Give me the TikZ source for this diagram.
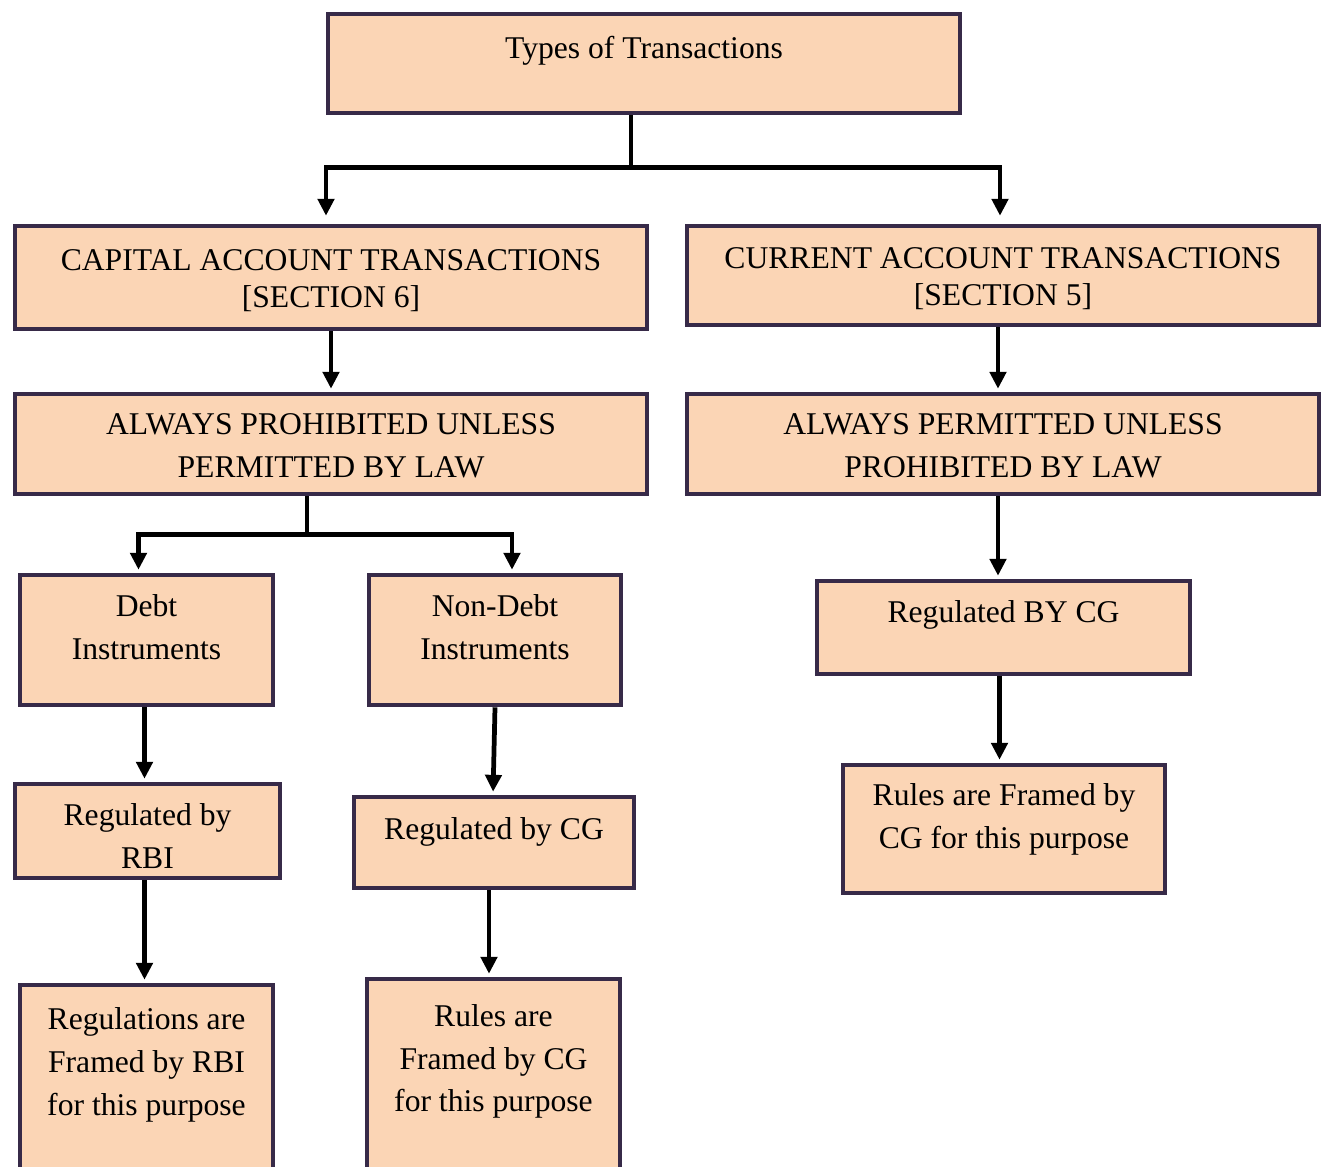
\documentclass[tikz,border=0pt]{standalone}
\usepackage{fontspec}
\setmainfont{Liberation Serif}
\usetikzlibrary{arrows.meta,calc}

\definecolor{boxfill}{RGB}{251,213,181}
\definecolor{boxline}{RGB}{55,42,72}

\tikzset{
    box/.style={draw=boxline, fill=boxfill, line width=1.3pt, inner sep=0pt},
    lbl/.style={align=center, inner sep=0pt, font=\fontsize{9}{12.2}\selectfont},
    tight/.style={font=\fontsize{9}{10.6}\selectfont},
    arr/.style={-{Triangle[width=4.6pt,length=4.8pt]}, line width=1.35pt, shorten >=0.03cm}
}

\begin{document}
\begin{tikzpicture}
    \clip (0,0) rectangle (13.25,-11.66);

    % Define the boxes
    \node[box, minimum width=6.32cm, minimum height=0.99cm] (types) at (6.44,-0.635) {};
    \node[box, minimum width=6.32cm, minimum height=1.03cm] (cap) at (3.31,-2.775) {};
    \node[box, minimum width=6.32cm, minimum height=0.99cm] (cur) at (10.03,-2.755) {};
    \node[box, minimum width=6.32cm, minimum height=1.00cm] (prohib) at (3.31,-4.44) {};
    \node[box, minimum width=6.32cm, minimum height=1.00cm] (perm) at (10.03,-4.44) {};
    \node[box, minimum width=2.53cm, minimum height=1.30cm] (debt) at (1.465,-6.40) {};
    \node[box, minimum width=2.52cm, minimum height=1.30cm] (nondebt) at (4.95,-6.40) {};
    \node[box, minimum width=3.73cm, minimum height=0.93cm] (regcgR) at (10.035,-6.275) {};
    \node[box, minimum width=3.22cm, minimum height=1.28cm] (rulesR) at (10.04,-8.29) {};
    \node[box, minimum width=2.65cm, minimum height=0.94cm] (regrbi) at (1.475,-8.31) {};
    \node[box, minimum width=2.80cm, minimum height=0.91cm] (regcgM) at (4.94,-8.425) {};
    \node[box, minimum width=2.53cm, minimum height=2.05cm] (regsrbi) at (1.465,-10.875) {};
    \node[box, minimum width=2.53cm, minimum height=2.11cm] (rulescg) at (4.935,-10.845) {};

    % Place the texts
    \node[lbl] (types-t) at (6.44,-0.51) {Types of Transactions};
    \node[lbl, tight] (cap-t) at (3.31,-2.81) {CAPITAL ACCOUNT TRANSACTIONS\\ {[SECTION 6]}};
    \node[lbl, tight] (cur-t) at (10.03,-2.79) {CURRENT ACCOUNT TRANSACTIONS\\ {[SECTION 5]}};
    \node[lbl] (prohib-t) at (3.31,-4.455) {ALWAYS PROHIBITED UNLESS\\ PERMITTED BY LAW};
    \node[lbl] (perm-t) at (10.03,-4.455) {ALWAYS PERMITTED UNLESS\\ PROHIBITED BY LAW};
    \node[lbl] (debt-t) at (1.465,-6.27) {Debt\\ Instruments};
    \node[lbl] (nondebt-t) at (4.95,-6.27) {Non-Debt\\ Instruments};
    \node[lbl] (regcgR-t) at (10.035,-6.15) {Regulated BY CG};
    \node[lbl] (rulesR-t) at (10.04,-8.195) {Rules are Framed by\\ CG for this purpose};
    \node[lbl] (regrbi-t) at (1.475,-8.36) {Regulated by\\ RBI};
    \node[lbl] (regcgM-t) at (4.94,-8.32) {Regulated by CG};
    \node[lbl] (regsrbi-t) at (1.465,-10.65) {Regulations are\\ Framed by RBI\\ for this purpose};
    \node[lbl] (rulescg-t) at (4.935,-10.615) {Rules are\\ Framed by CG\\ for this purpose};

    % Draw the connectors
    \draw[arr, shorten >=0.08cm] ($(types.south)+(-0.13,0)$) -- ++(0,-0.52) coordinate (split1) -| ($(cap.north)+(-0.05,0)$);
    \draw[arr, shorten >=0.08cm] (split1) -| ($(cur.north)+(-0.03,0)$);
    \draw[arr] (cap.south) -- (cap.south |- prohib.north);
    \draw[arr] ($(cur.south)+(-0.05,0)$) -- ($(cur.south |- perm.north)+(-0.05,0)$);
    \draw[arr] ($(prohib.south)+(-0.24,0)$) -- ++(0,-0.38) coordinate (split2) -| ($(debt.north)+(-0.08,0)$);
    \draw[arr] (split2) -| ($(nondebt.north)+(0.17,0)$);
    \draw[arr] ($(debt.south)+(-0.02,0)$) -- ($(debt.south |- regrbi.north)+(-0.02,0)$);
    \draw[arr] (nondebt.south) -- ($(nondebt.south |- regcgM.north)+(-0.02,0)$);
    \draw[arr] ($(regrbi.south)+(-0.03,0)$) -- ($(regrbi.south |- regsrbi.north)+(-0.03,0)$);
    \draw[arr] ($(regcgM.south)+(-0.05,0)$) -- ($(regcgM.south |- rulescg.north)+(-0.05,0)$);
    \draw[arr] ($(perm.south)+(-0.05,0)$) -- ($(perm.south |- regcgR.north)+(-0.05,0)$);
    \draw[arr] ($(regcgR.south)+(-0.04,0)$) -- ($(regcgR.south |- rulesR.north)+(-0.04,0)$);
\end{tikzpicture}
\end{document}
